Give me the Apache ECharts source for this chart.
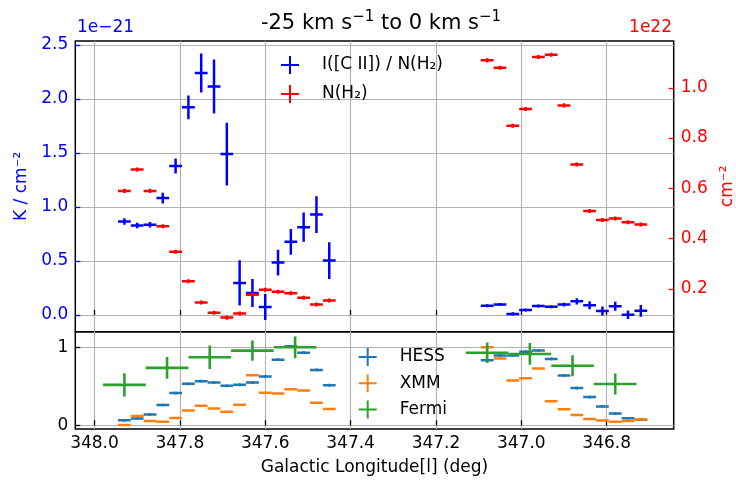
<!DOCTYPE html>
<html><head><meta charset="utf-8">
<script src="https://cdn.jsdelivr.net/npm/echarts@6.0.0/dist/echarts.min.js"></script>
<style>html,body{margin:0;padding:0;background:#fff}#c{width:736px;height:482px}</style>
</head><body><div id="c"></div>
<script>
// ---- data ----
const longitudes = [347.93, 347.90, 347.87, 347.84, 347.81, 347.78, 347.75, 347.72, 347.69, 347.66,
  347.63, 347.60, 347.57, 347.54, 347.51, 347.48, 347.45,
  347.08, 347.05, 347.02, 346.99, 346.96, 346.93, 346.90, 346.87, 346.84, 346.81, 346.78, 346.75, 346.72];
// I([C II]) / N(H2), units of 1e-21 K / cm^-2
const ciiRatio = [0.866, 0.828, 0.835, 1.082, 1.379, 1.923, 2.241, 2.115, 1.490, 0.297,
  0.204, 0.074, 0.485, 0.677, 0.813, 0.930, 0.504,
  0.086, 0.096, 0.010, 0.045, 0.082, 0.076, 0.096, 0.126, 0.089, 0.037, 0.080, 0.002, 0.038];
const ciiRatioErr = [0.03, 0.025, 0.025, 0.05, 0.07, 0.11, 0.18, 0.25, 0.29, 0.21,
  0.13, 0.12, 0.12, 0.12, 0.135, 0.17, 0.17,
  0.014, 0.014, 0.014, 0.014, 0.014, 0.014, 0.018, 0.028, 0.037, 0.042, 0.042, 0.04, 0.054];
// N(H2), units of 1e22 cm^-2
const nh2 = [0.590, 0.675, 0.590, 0.449, 0.348, 0.231, 0.146, 0.105, 0.086, 0.102,
  0.177, 0.197, 0.189, 0.183, 0.165, 0.138, 0.154,
  1.109, 1.080, 0.849, 0.916, 1.122, 1.131, 0.930, 0.695, 0.510, 0.474, 0.480, 0.465, 0.456];
const nh2Err = 0.008;
// normalised high-energy profiles
const hess = [0.064, 0.089, 0.140, 0.260, 0.413, 0.532, 0.566, 0.548, 0.506, 0.519,
  0.548, 0.625, 0.842, 1.013, 0.931, 0.710, 0.515,
  0.834, 0.895, 0.895, 0.944, 0.960, 0.851, 0.640, 0.477, 0.362, 0.242, 0.151, 0.091, 0.073];
const hessErr = 0.017;
const xmm = [0.005, 0.120, 0.056, 0.047, 0.094, 0.191, 0.251, 0.217, 0.175, 0.264,
  0.643, 0.417, 0.408, 0.464, 0.447, 0.290, 0.209,
  1.000, 0.857, 0.575, 0.604, 0.727, 0.308, 0.205, 0.133, 0.082, 0.062, 0.045, 0.054, 0.075];
const xmmErr = 0;
const fermiLon = [347.93, 347.83, 347.73, 347.63, 347.53, 347.08, 346.98, 346.88, 346.78];
const fermi = [0.519, 0.736, 0.872, 0.957, 1.000, 0.930, 0.915, 0.763, 0.530];
const fermiErr = [0.15, 0.14, 0.15, 0.13, 0.14, 0.13, 0.14, 0.135, 0.135];
const binHalfWidth = 0.015;
const fermiHalfWidth = 0.05;
const xTicks = [346.8, 347.0, 347.2, 347.4, 347.6, 347.8, 348.0];
const yTicksLeft = [0, 0.5, 1.0, 1.5, 2.0, 2.5];
const yTicksRight = [0.2, 0.4, 0.6, 0.8, 1.0];
const yTicksBottom = [0, 1];

// ---- chart ----
const FONT = 'DejaVu Sans';
const chart = echarts.init(document.getElementById('c'), null, {renderer: 'canvas'});

function errData(xs, ys, xe, ye) {
  return xs.map((x, i) => [x, ys[i], Array.isArray(xe) ? xe[i] : xe, Array.isArray(ye) ? ye[i] : ye]);
}
function errRender(color, width) {
  return function (params, api) {
    const x = api.value(0), y = api.value(1), xe = api.value(2), ye = api.value(3);
    const a = api.coord([x - xe, y]), b = api.coord([x + xe, y]);
    const c = api.coord([x, y - ye]), d = api.coord([x, y + ye]);
    const style = {stroke: color, lineWidth: width, fill: null};
    const kids = [{type: 'line', shape: {x1: a[0], y1: a[1], x2: b[0], y2: b[1]}, style}];
    if (ye > 0) kids.push({type: 'line', shape: {x1: c[0], y1: c[1], x2: d[0], y2: d[1]}, style});
    return {type: 'group', children: kids};
  };
}
const crossIcon = 'path://M8,0h2v8h8v2h-8v8h-2v-8h-8v-2h8z';

function xAxis(gridIndex, showLabels) {
  return {
    type: 'value', gridIndex, inverse: true, min: 346.643, max: 348.045,
    axisLine: {show: false},
    axisTick: {show: true, inside: true, length: 5, customValues: xTicks, lineStyle: {color: '#000', width: 1.3}},
    axisLabel: {show: showLabels, customValues: xTicks, formatter: v => v.toFixed(1), color: '#000',
      fontFamily: FONT, fontSize: 17, margin: 6},
    splitLine: {show: true, lineStyle: {color: '#b0b0b0', width: 1.1}},
    name: showLabels ? 'Galactic Longitude[l] (deg)' : '', nameLocation: 'middle', nameGap: 30,
    nameTextStyle: {fontFamily: FONT, fontSize: 17, color: '#000'}
  };
}

const option = {
  animation: false,
  backgroundColor: '#fff',
  textStyle: {fontFamily: FONT},
  title: {text: '-25 km s{sup|\u22121} to 0 km s{sup|\u22121}', left: 376, top: 5, textAlign: 'center',
    textStyle: {fontFamily: FONT, fontSize: 21, fontWeight: 'normal', color: '#000', lineHeight: 27,
      rich: {sup: {fontFamily: FONT, fontSize: 15, verticalAlign: 'top', lineHeight: 15, color: '#000'}}}},
  grid: [
    {left: 75.3, right: 62.3, top: 41, height: 290.7, show: true, borderColor: '#000', borderWidth: 1.5,
      containLabel: false, outerBoundsMode: 'none'},
    {left: 75.3, right: 62.3, top: 331.7, height: 97.3, show: true, borderColor: '#000', borderWidth: 1.5,
      containLabel: false, outerBoundsMode: 'none'}
  ],
  xAxis: [xAxis(0, false), xAxis(1, true)],
  yAxis: [
    {type: 'value', gridIndex: 0, position: 'left', min: -0.155, max: 2.537,
      axisLine: {show: false},
      axisTick: {show: true, inside: true, length: 5, customValues: yTicksLeft, lineStyle: {color: '#0000ff', width: 1.3}},
      axisLabel: {customValues: yTicksLeft, formatter: v => v.toFixed(1), color: '#0000ff', fontFamily: FONT, fontSize: 17, margin: 7},
      splitLine: {show: true, lineStyle: {color: '#b0b0b0', width: 1.1}},
      name: 'K / cm\u207B\u00B2', nameLocation: 'middle', nameRotate: 90, nameGap: 44,
      nameTextStyle: {color: '#0000ff', fontFamily: FONT, fontSize: 17}},
    {type: 'value', gridIndex: 0, position: 'right', min: 0.030, max: 1.186,
      axisLine: {show: false},
      axisTick: {show: true, inside: true, length: 5, customValues: yTicksRight, lineStyle: {color: '#ff0000', width: 1.3}},
      axisLabel: {customValues: yTicksRight, formatter: v => v.toFixed(1), color: '#ff0000', fontFamily: FONT, fontSize: 17, margin: 7},
      splitLine: {show: false},
      name: 'cm\u207B\u00B2', nameLocation: 'middle', nameRotate: 90, nameGap: 44,
      nameTextStyle: {color: '#ff0000', fontFamily: FONT, fontSize: 17}},
    {type: 'value', gridIndex: 1, position: 'left', min: -0.047, max: 1.2,
      axisLine: {show: false},
      axisTick: {show: true, inside: true, length: 5, customValues: yTicksBottom, lineStyle: {color: '#000', width: 1.3}},
      axisLabel: {customValues: yTicksBottom, formatter: v => String(v), color: '#000', fontFamily: FONT, fontSize: 17, margin: 7},
      splitLine: {show: true, lineStyle: {color: '#b0b0b0', width: 1.1}}}
  ],
  legend: [
    {data: [{name: 'I([C II]) / N(H\u2082)', icon: crossIcon}, {name: 'N(H\u2082)', icon: crossIcon}],
      orient: 'vertical', left: 276, top: 51, itemWidth: 18, itemHeight: 18, itemGap: 11, selectedMode: false,
      textStyle: {fontFamily: FONT, fontSize: 17, color: '#000', padding: [0, 0, 0, 18]}},
    {data: [{name: 'HESS', icon: crossIcon}, {name: 'XMM', icon: crossIcon}, {name: 'Fermi', icon: crossIcon}],
      orient: 'vertical', left: 353.7, top: 343, itemWidth: 18, itemHeight: 18, itemGap: 8.2, selectedMode: false,
      textStyle: {fontFamily: FONT, fontSize: 17, color: '#000', padding: [0, 0, 0, 18]}}
  ],
  series: [
    {name: 'I([C II]) / N(H\u2082)', type: 'custom', xAxisIndex: 0, yAxisIndex: 0, clip: true,
      itemStyle: {color: '#0000ff'}, renderItem: errRender('#0000ff', 2.5),
      data: errData(longitudes, ciiRatio, binHalfWidth, ciiRatioErr), z: 3},
    {name: 'N(H\u2082)', type: 'custom', xAxisIndex: 0, yAxisIndex: 1, clip: true,
      itemStyle: {color: '#ff0000'}, renderItem: errRender('#ff0000', 2.5),
      data: errData(longitudes, nh2, binHalfWidth, nh2Err), z: 4},
    {name: 'HESS', type: 'custom', xAxisIndex: 1, yAxisIndex: 2, clip: true,
      itemStyle: {color: '#1f77b4'}, renderItem: errRender('#1f77b4', 2.5),
      data: errData(longitudes, hess, binHalfWidth, hessErr), z: 3},
    {name: 'XMM', type: 'custom', xAxisIndex: 1, yAxisIndex: 2, clip: true,
      itemStyle: {color: '#ff7f0e'}, renderItem: errRender('#ff7f0e', 2.5),
      data: errData(longitudes, xmm, binHalfWidth, xmmErr), z: 4},
    {name: 'Fermi', type: 'custom', xAxisIndex: 1, yAxisIndex: 2, clip: true,
      itemStyle: {color: '#2ca02c'}, renderItem: errRender('#2ca02c', 2.6),
      data: errData(fermiLon, fermi, fermiHalfWidth, fermiErr), z: 5}
  ],
  graphic: [
    {type: 'text', left: 77, top: 19, style: {text: '1e\u221221', fill: '#0000ff', font: '17px "DejaVu Sans"'}},
    {type: 'text', right: 64, top: 19, style: {text: '1e22', fill: '#ff0000', font: '17px "DejaVu Sans"'}}
  ]
};
chart.setOption(option);
</script>
</body></html>
